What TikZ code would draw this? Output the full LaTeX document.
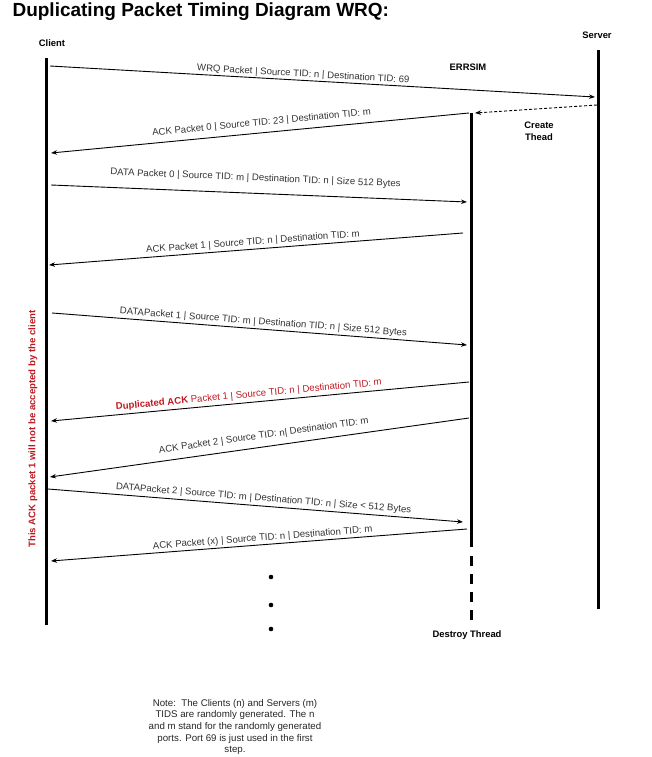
\documentclass[tikz,border=0pt]{standalone}
\usepackage{fontspec}
\setmainfont{Liberation Sans}
\usetikzlibrary{arrows.meta}
\definecolor{dupred}{RGB}{192,24,32}

\begin{document}
\begin{tikzpicture}[x=1pt,y=-1pt,>={Stealth[length=6pt,width=4.5pt]}]
    \tikzstyle{life}=[line width=3pt]
    \tikzstyle{msg}=[draw=black, line width=0.9pt, ->]
    \tikzstyle{lbl}=[font=\fontsize{9.6}{11}\selectfont, text=black!80, sloped, inner sep=0pt]
    \tikzstyle{actor}=[font=\fontsize{9.4}{11}\selectfont\bfseries, inner sep=0pt]
    \tikzstyle{dot}=[circle, fill=black, inner sep=0pt, minimum size=4.6pt]

    \useasboundingbox (0,0) rectangle (652,757);

    \begin{scope}
        % title and actors
        \node [anchor=west, font=\fontsize{19}{22}\selectfont\bfseries] (title) at (9,12) {Duplicating Packet Timing Diagram WRQ:};
        \node [actor] (client) at (52,43) {Client};
        \node [actor] (server) at (597,35) {Server};
        \node [actor] (errsim) at (468,67) {ERRSIM};
        \node [actor, align=center, font=\fontsize{9.4}{11.7}\selectfont\bfseries] (create) at (539,131) {Create\\Thead};
        \node [actor] (destroy) at (467,635) {Destroy Thread};

        % lifelines
        \coordinate (cl0) at (46,58);  \coordinate (cl1) at (46,625);
        \coordinate (sv0) at (598,50); \coordinate (sv1) at (598,609);
        \coordinate (er0) at (471,113); \coordinate (er1) at (471,547);
        \coordinate (er2) at (471,556); \coordinate (er3) at (471,623);
        \draw [life] (cl0) -- (cl1);
        \draw [life] (sv0) -- (sv1);
        \draw [life] (er0) -- (er1);
        \draw [life, dash pattern=on 10pt off 8pt] (er2) -- (er3);

        % message ends
        \coordinate (m1a) at (50,66);   \coordinate (m1b) at (595,97);
        \coordinate (m2a) at (597,105); \coordinate (m2b) at (475,113);
        \coordinate (m3a) at (469,113); \coordinate (m3b) at (51,153);
        \coordinate (m4a) at (51,185);  \coordinate (m4b) at (467,202);
        \coordinate (m5a) at (463,233); \coordinate (m5b) at (49,265);
        \coordinate (m6a) at (52,313);  \coordinate (m6b) at (467,345);
        \coordinate (m7a) at (469,382); \coordinate (m7b) at (51,421);
        \coordinate (m8a) at (469,418); \coordinate (m8b) at (50,477);
        \coordinate (m9a) at (48,489);  \coordinate (m9b) at (463,522);
        \coordinate (m10a) at (467,529); \coordinate (m10b) at (51,561);

        \draw[msg] (m1a) -- node[lbl, pos=0.464, above=1pt] {WRQ Packet | Source TID: n | Destination TID: 69} (m1b);
        \draw[msg, dash pattern=on 3pt off 2pt] (m2a) -- (m2b);
        \draw[msg] (m3a) -- node[lbl, pos=0.494, above=5pt] {ACK Packet 0 | Source TID: 23 | Destination TID: m} (m3b);
        \draw[msg] (m4a) -- node[lbl, pos=0.49, above=10pt] {DATA Packet 0 | Source TID: m | Destination TID: n | Size 512 Bytes} (m4b);
        \draw[msg] (m5a) -- node[lbl, pos=0.506, above=2pt] {ACK Packet 1 | Source TID: n | Destination TID: m} (m5b);
        \draw[msg] (m6a) -- node[lbl, pos=0.508, above=2pt] {DATAPacket 1 | Source TID: m | Destination TID: n | Size 512 Bytes} (m6b);
        \draw[msg] (m7a) -- node[lbl, pos=0.525, above=2.5pt, text=dupred] {\textbf{Duplicated ACK} Packet 1 | Source TID: n | Destination TID: m} (m7b);
        \draw[msg] (m8a) -- node[lbl, pos=0.486, above=6pt] {ACK Packet 2 | Source TID: n| Destination TID: m} (m8b);
        \draw[msg] (m9a) -- node[lbl, pos=0.518, above=2.5pt] {DATAPacket 2 | Source TID: m | Destination TID: n | Size < 512 Bytes} (m9b);
        \draw[msg] (m10a) -- node[lbl, pos=0.49, above=1.5pt] {ACK Packet (x) | Source TID: n | Destination TID: m} (m10b);

        % side note and dots
        \node [rotate=90, text=dupred, font=\fontsize{9.6}{11}\selectfont\bfseries, inner sep=0pt] (reject) at (33,429) {This ACK packet 1 will not be accepted by the client};
        \node [dot] (d1) at (271,577) {};
        \node [dot] (d2) at (271,605) {};
        \node [dot] (d3) at (271,629) {};
        \node [align=center, font=\fontsize{9.7}{11.7}\selectfont, text=black!85] (note) at (235,727) {Note:\ \ The Clients (n) and Servers (m)\\TIDS are randomly generated. The n\\and m stand for the randomly generated\\ports. Port 69 is just used in the first\\step.};
    \end{scope}
\end{tikzpicture}
\end{document}
